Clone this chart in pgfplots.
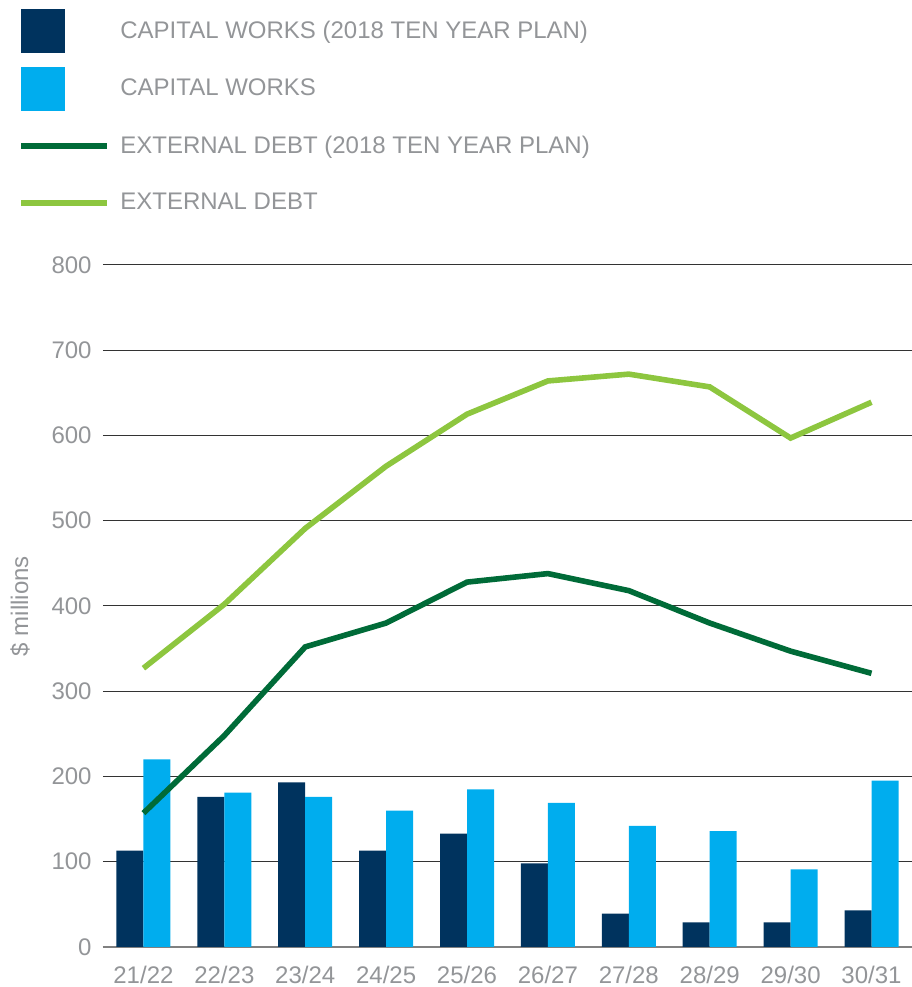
\documentclass[border=0pt]{standalone}
\usepackage{fontspec}
\setmainfont{Liberation Sans}
\usepackage{pgfplots}
\pgfplotsset{compat=1.18}
\definecolor{navy}{HTML}{00335E}
\definecolor{sky}{HTML}{00ADEE}
\definecolor{dgreen}{HTML}{006B38}
\definecolor{lgreen}{HTML}{8DC63F}
\definecolor{txtgray}{HTML}{939598}
\begin{document}
\begin{tikzpicture}
\begin{axis}[
  scale only axis, width=404.5pt, height=341pt,
  xmin=-0.5, xmax=9.5, ymin=0, ymax=800,
  ytick={0,100,...,800},
  xtick={0,...,9},
  xticklabels={21/22,22/23,23/24,24/25,25/26,26/27,27/28,28/29,29/30,30/31},
  major tick length=0pt,
  axis x line*=bottom, axis y line*=left,
  y axis line style={draw=none},
  x axis line style={draw=black!50, line width=0.8pt},
  ymajorgrids, grid style={black!80, line width=0.5pt},
  tick label style={font=\fontsize{12}{14}\selectfont, text=txtgray},
  /pgf/number format/assume math mode=true,
  yticklabel style={anchor=east, inner sep=0pt, xshift=-5.5pt},
  xticklabel style={anchor=north, inner sep=0pt, yshift=-9.5pt},
  ylabel={\$ millions},
  ylabel style={at={(axis description cs:-0.1026,0.5)}, anchor=center, font=\fontsize{12}{14}\selectfont, text=txtgray},
  legend cell align=left,
  legend style={at={(axis description cs:-0.1051,1.3755)}, anchor=north west, draw=none, fill=none, inner sep=0pt,
    row sep=6.65pt, column sep=3pt, font=\fontsize{12}{14}\selectfont, text=txtgray},
  clip=false,
]
\addplot[ybar, bar width=13.5pt, bar shift=-6.75pt, fill=navy, draw=none,
  legend image code/.code={\path[draw=none,fill=none] (0pt,-11pt) rectangle (43pt,11pt); \fill[navy] (0pt,-11pt) rectangle (22pt,11pt);}]
  coordinates {(0,113) (1,176) (2,193) (3,113) (4,133) (5,98) (6,39) (7,29) (8,29) (9,43)};
\addlegendentry{CAPITAL WORKS (2018 TEN YEAR PLAN)}
\addplot[ybar, bar width=13.5pt, bar shift=6.75pt, fill=sky, draw=none,
  legend image code/.code={\path[draw=none,fill=none] (0pt,-11pt) rectangle (43pt,11pt); \fill[sky] (0pt,-11pt) rectangle (22pt,11pt);}]
  coordinates {(0,220) (1,181) (2,176) (3,160) (4,185) (5,169) (6,142) (7,136) (8,91) (9,195)};
\addlegendentry{CAPITAL WORKS}
\addplot[sharp plot, dgreen, line width=2.8pt, mark=none,
  legend image code/.code={\path[draw=none,fill=none] (0pt,-11pt) rectangle (43pt,11pt); \draw[dgreen, line width=3pt] (0pt,0pt) -- (43pt,0pt);}]
  coordinates {(0,157) (1,248) (2,352) (3,380) (4,428) (5,438) (6,418) (7,380) (8,347) (9,321)};
\addlegendentry{EXTERNAL DEBT (2018 TEN YEAR PLAN)}
\addplot[sharp plot, lgreen, line width=2.8pt, mark=none,
  legend image code/.code={\path[draw=none,fill=none] (0pt,-11pt) rectangle (43pt,11pt); \draw[lgreen, line width=3pt] (0pt,0pt) -- (43pt,0pt);}]
  coordinates {(0,327) (1,402) (2,491) (3,564) (4,625) (5,664) (6,672) (7,657) (8,597) (9,639)};
\addlegendentry{EXTERNAL DEBT}
\coordinate (bl) at (rel axis cs:-0.1273,-0.0587);
\coordinate (tr) at (rel axis cs:1,1.3886);
\end{axis}
\pgfresetboundingbox
\path (bl) rectangle (tr);
\end{tikzpicture}
\end{document}
